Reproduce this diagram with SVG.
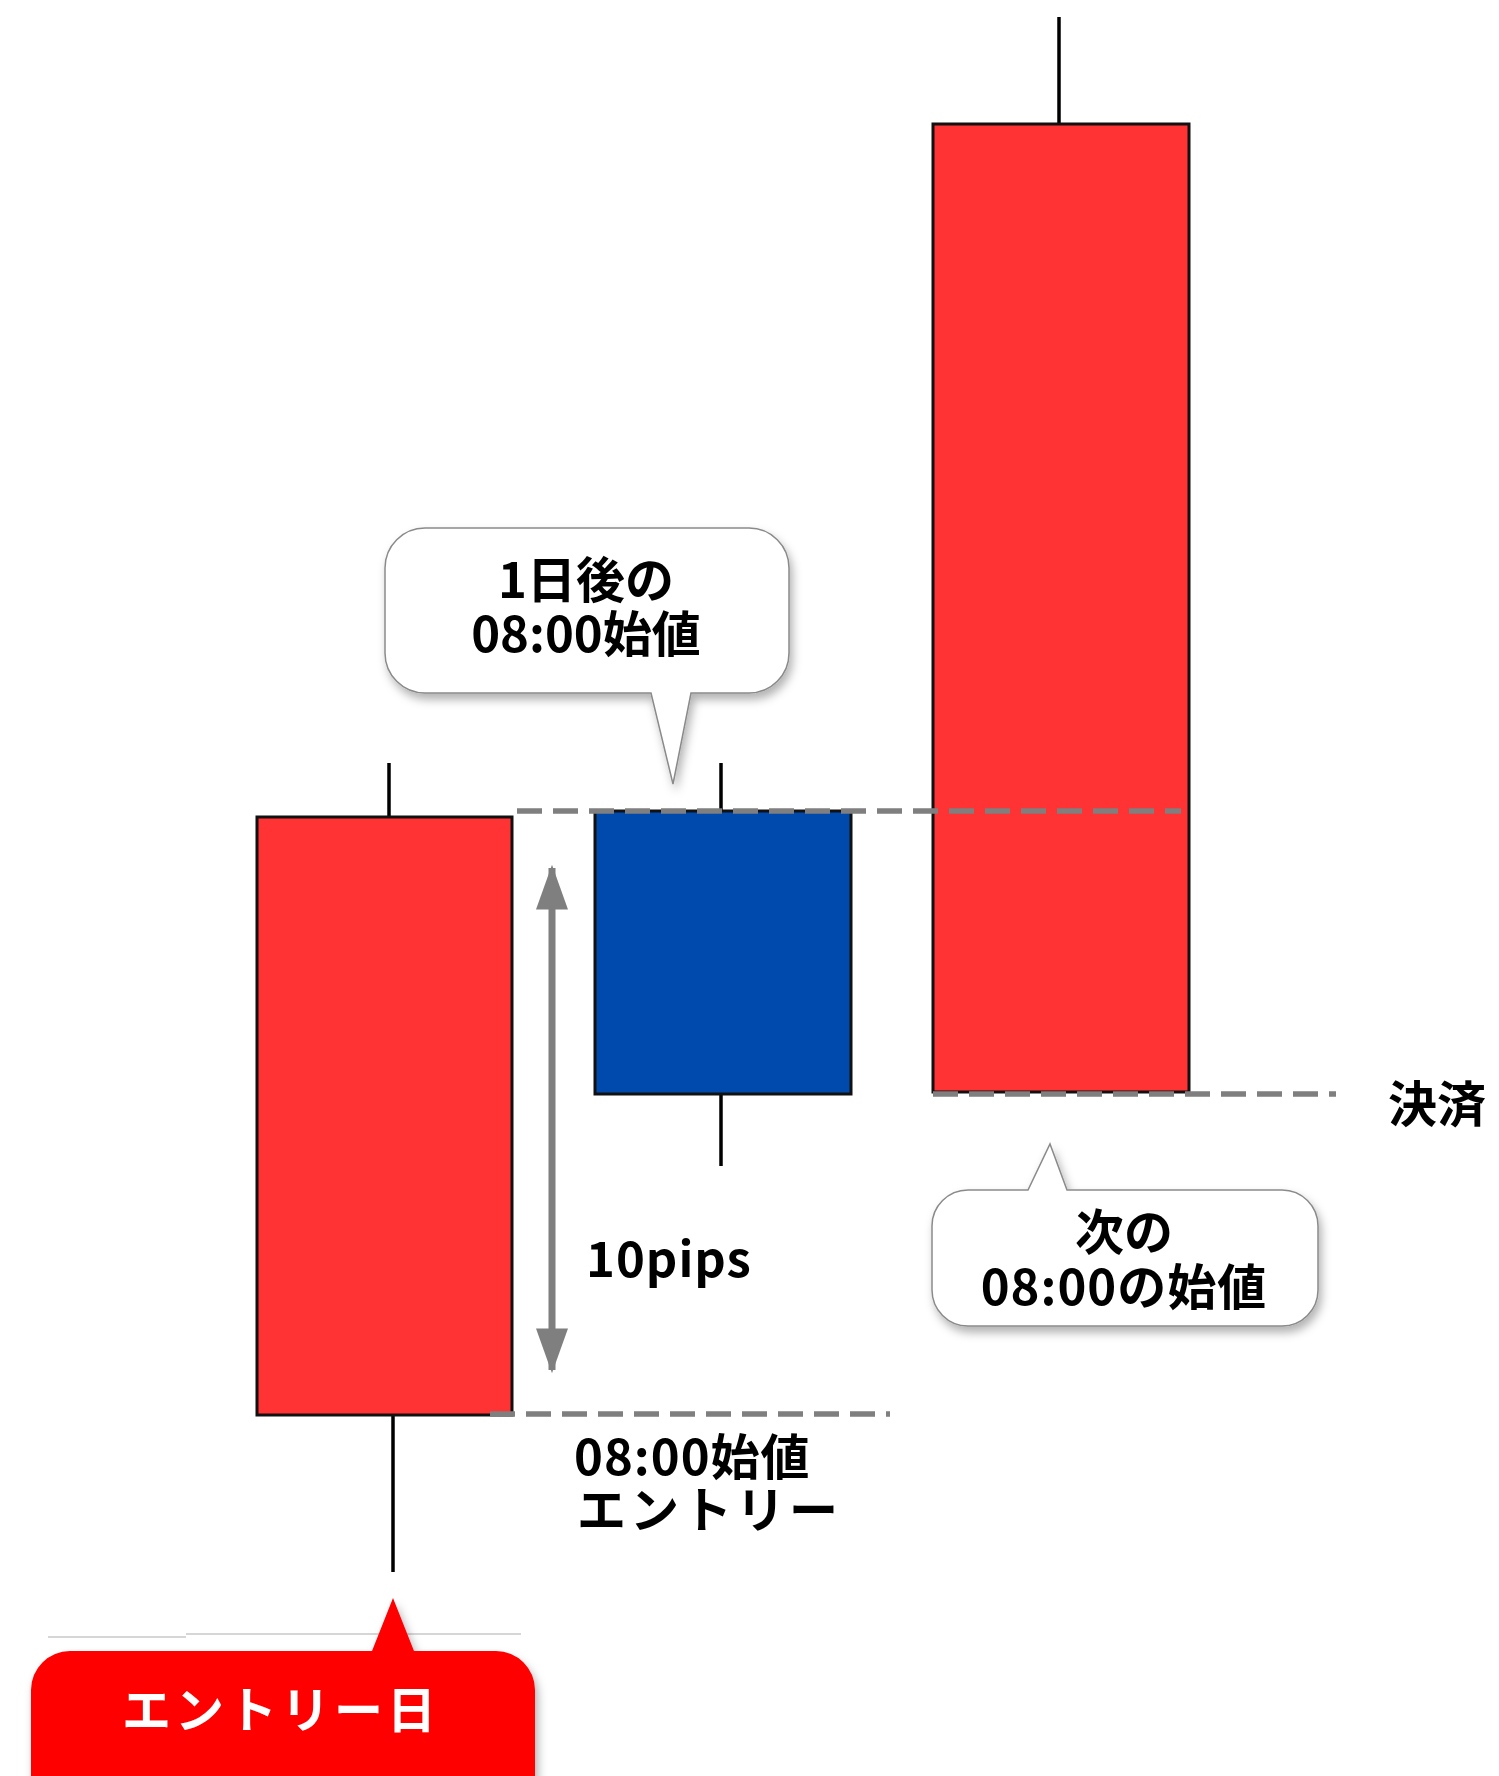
<svg xmlns="http://www.w3.org/2000/svg" width="1499" height="1776" viewBox="0 0 1499 1776">
<style>
.candle{stroke:#111;stroke-width:3}
.red{fill:#FF3333}
.blue{fill:#004AAD}
.wick{stroke:#000;stroke-width:3.5}
.dash{stroke:#7F7F7F;stroke-width:5.5;stroke-dasharray:25 11;fill:none}
.t{font-family:"Noto Sans CJK JP","Noto Sans",sans-serif;font-weight:700;font-size:49px;fill:#000}
.bubble{fill:#fff;stroke:#8a8a8a;stroke-width:1.5}
</style>
<defs>
<filter id="sh" x="-10%" y="-10%" width="130%" height="140%">
<feDropShadow dx="3" dy="6" stdDeviation="5" flood-color="#000" flood-opacity="0.3"/>
</filter>
<marker id="ah" viewBox="0 0 14 10" refX="13" refY="5" markerWidth="6.4" markerHeight="4.6" orient="auto-start-reverse" markerUnits="strokeWidth">
<path d="M0,0 L14,5 L0,10 z" fill="#7F7F7F"/>
</marker>
</defs>

<g id="candle-entry">
<line class="wick" x1="389" y1="763" x2="389" y2="817"/>
<line class="wick" x1="393" y1="1415" x2="393" y2="1572"/>
<rect class="candle red" x="257" y="817" width="255" height="598"/>
</g>

<g id="candle-day1">
<line class="wick" x1="721" y1="763" x2="721" y2="811"/>
<line class="wick" x1="721" y1="1094" x2="721" y2="1166"/>
<rect class="candle blue" x="595" y="811" width="256" height="283"/>
</g>

<g id="candle-next">
<line class="wick" x1="1059" y1="17" x2="1059" y2="124"/>
<rect class="candle red" x="933" y="124" width="256" height="968"/>
</g>

<g id="connectors">
<line class="dash" x1="517" y1="811" x2="1181" y2="811"/>
<line class="dash" x1="933" y1="1094" x2="1336" y2="1094"/>
<line class="dash" x1="490" y1="1414" x2="890" y2="1414"/>
<line x1="552" y1="868" x2="552" y2="1370" stroke="#7F7F7F" stroke-width="7" marker-start="url(#ah)" marker-end="url(#ah)"/>
<line x1="48" y1="1637" x2="186" y2="1637" stroke="#c8c8c8" stroke-width="1.5"/>
<line x1="186" y1="1634" x2="521" y2="1634" stroke="#c8c8c8" stroke-width="1.5"/>
</g>

<g id="callout-day1">
<path class="bubble" filter="url(#sh)" d="M425,528 H749 A40,40 0 0 1 789,568 V653 A40,40 0 0 1 749,693 H691 L673,784 L651,693 H425 A40,40 0 0 1 385,653 V568 A40,40 0 0 1 425,528 Z"/>
<text class="t" x="586" y="598" text-anchor="middle">1日後の</text>
<text class="t" x="586" y="652" text-anchor="middle">08:00始値</text>
</g>

<g id="callout-next">
<path class="bubble" filter="url(#sh)" d="M968,1190 H1028 L1050,1144 L1067,1190 H1282 A36,36 0 0 1 1318,1226 V1290 A36,36 0 0 1 1282,1326 H968 A36,36 0 0 1 932,1290 V1226 A36,36 0 0 1 968,1190 Z"/>
<text class="t" x="1124" y="1250" text-anchor="middle">次の</text>
<text class="t" x="1124" y="1305" text-anchor="middle" letter-spacing="1">08:00の始値</text>
</g>

<g id="label-settle">
<text class="t" x="1388" y="1122">決済</text>
</g>

<g id="label-pips">
<text class="t" x="586" y="1277" letter-spacing="1">10pips</text>
</g>

<g id="label-entry">
<text class="t" x="574" y="1475" letter-spacing="1">08:00始値</text>
<text class="t" x="577" y="1528" letter-spacing="4">エントリー</text>
</g>

<g id="callout-entry-day">
<path fill="#FF0000" filter="url(#sh)" d="M70,1651 H372 L393,1598 L414,1651 H496 A39,39 0 0 1 535,1690 V1800 H31 V1690 A39,39 0 0 1 70,1651 Z"/>
<text class="t" x="281" y="1728" text-anchor="middle" style="fill:#fff" letter-spacing="4">エントリー日</text>
</g>
</svg>
